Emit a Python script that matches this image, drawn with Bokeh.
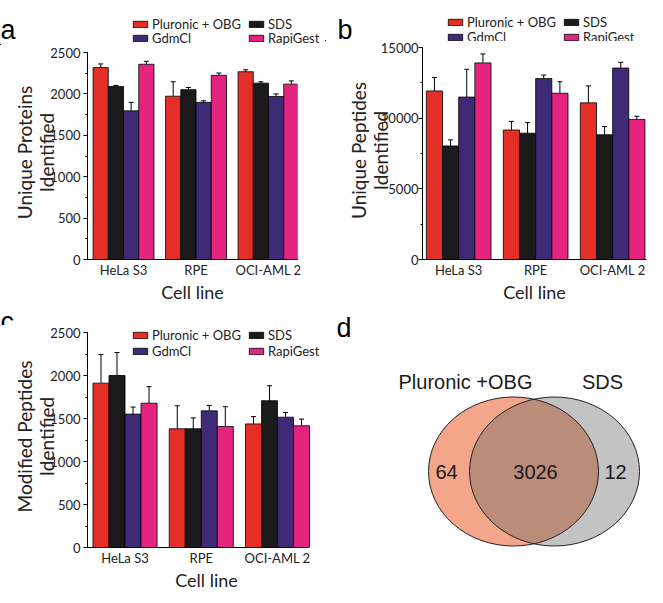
import numpy as np
from bokeh.plotting import figure
from bokeh.models import (Range1d, FixedTicker, SingleIntervalTicker, Legend, LegendItem,
                          Whisker, TeeHead, ColumnDataSource)
from bokeh.layouts import column, row
from bokeh.embed import file_html
from bokeh.resources import INLINE
from bokeh.core.properties import value

# ---------------- data ----------------
cell_lines = ["HeLa S3", "RPE", "OCI-AML 2"]
series = ["Pluronic + OBG", "SDS", "GdmCl", "RapiGest"]
colors = ["#E42F27", "#1B191A", "#3F2A78", "#E5247F"]

# panel a: unique proteins identified
a_pluronic = [2319, 1972, 2268]
a_pluronic_err = [43, 174, 23]
a_sds = [2090, 2051, 2130]
a_sds_err = [12, 27, 16]
a_gdmcl = [1795, 1898, 1969]
a_gdmcl_err = [103, 19, 31]
a_rapigest = [2358, 2224, 2118]
a_rapigest_err = [36, 28, 39]

# panel b: unique peptides identified
b_pluronic = [11926, 9164, 11085]
b_pluronic_err = [950, 610, 1198]
b_sds = [8034, 8938, 8825]
b_sds_err = [429, 746, 587]
b_gdmcl = [11492, 12802, 13548]
b_gdmcl_err = [1966, 249, 407]
b_rapigest = [13910, 11763, 9910]
b_rapigest_err = [633, 813, 226]

# panel c: modified peptides identified
c_pluronic = [1911, 1381, 1437]
c_pluronic_err = [333, 267, 85]
c_sds = [2000, 1381, 1707]
c_sds_err = [267, 126, 174]
c_gdmcl = [1551, 1589, 1515]
c_gdmcl_err = [82, 63, 55]
c_rapigest = [1678, 1407, 1415]
c_rapigest_err = [192, 230, 78]

# panel d: venn
venn_sets = ["Pluronic +OBG", "SDS"]
venn_counts = [64, 3026, 12]  # only Pluronic, both, only SDS

FONT = "Lato"
BW = 0.21
LEG_ROWS = [[0, 1], [2, 3]]  # row 1: Pluronic + OBG, SDS ; row 2: GdmCl, RapiGest


def add_legends(p, rends, x, ys):
    for idx, y in zip(LEG_ROWS, ys):
        p.add_layout(Legend(items=[LegendItem(label=series[i], renderers=[rends[i]]) for i in idx],
                            location=(x, y), orientation="horizontal",
                            glyph_width=18, glyph_height=8, label_standoff=3, spacing=0,
                            padding=0, margin=0, label_height=24, label_width=95,
                            label_text_font=FONT, label_text_font_size="13px", label_text_color="#222222",
                            border_line_color=None, background_fill_alpha=0))


def blank(w, h):
    p = figure(width=w, height=h, x_range=Range1d(0, w), y_range=Range1d(0, h),
               x_axis_type=None, y_axis_type=None, toolbar_location=None, output_backend="svg",
               min_border=0)
    p.grid.visible = False
    p.outline_line_color = None
    p.background_fill_color = None
    p.border_fill_color = None
    return p


def header(w, h, letter, lx, ly, legend_x=None, legend_ys=None):
    p = blank(w, h)
    p.text(x=[lx], y=[ly], text=[letter], text_baseline="alphabetic",
           text_font=value("Liberation Sans"), text_font_size="27px", text_color="#000000")
    if legend_x is not None:
        # legend proxies, placed outside the visible range
        rends = [p.vbar(x=[-1000], top=[1], width=1, fill_color=c, line_color="black", line_width=0.8)
                 for c in colors]
        add_legends(p, rends, legend_x, legend_ys)
    return p


def bar_panel(means, errs, ylabel, yshown, yint, fw, fh, top_gap, left, right, xr, xshown,
              ylab_standoff=-11, ytick_standoff=3, legend_x=None, legend_ys=None):
    # frame starts at the figure top; the y range reaches top_gap pixels above the axis end
    yend = yshown * fh / (fh - top_gap)
    p = figure(frame_width=fw, frame_height=fh, x_range=Range1d(*xr), y_range=Range1d(0, yend),
               toolbar_location=None, output_backend="svg",
               min_border_left=left, min_border_right=right, min_border_top=0, min_border_bottom=47)
    p.grid.visible = False
    p.outline_line_color = None
    p.background_fill_color = None
    p.border_fill_color = None
    base = np.arange(1, len(cell_lines) + 1)
    rends = []
    for i in range(4):
        xs = base + (i - 1.5) * BW
        r = p.vbar(x=xs, top=means[i], width=BW, fill_color=colors[i], line_color="black", line_width=0.8)
        rends.append(r)
        src = ColumnDataSource(dict(base=xs, lower=np.array(means[i]), upper=np.array(means[i]) + np.array(errs[i])))
        w = Whisker(base="base", lower="lower", upper="upper", source=src, dimension="height",
                    line_color="black", line_width=1,
                    upper_head=TeeHead(size=5, line_color="black", line_width=1), lower_head=None)
        p.add_layout(w)
    p.xaxis.ticker = FixedTicker(ticks=list(base))
    p.xaxis.bounds = xshown
    p.xaxis.major_label_overrides = {int(b): c for b, c in zip(base, cell_lines)}
    p.xaxis.major_tick_line_color = None
    p.xaxis.minor_tick_line_color = None
    p.xaxis.major_tick_out = 0
    p.xaxis.major_tick_in = 0
    p.xaxis.minor_tick_out = 0
    p.xaxis.minor_tick_in = 0
    p.xaxis.major_label_standoff = 2
    p.xaxis.axis_label = "Cell line"
    p.xaxis.axis_label_standoff = 0
    p.yaxis.ticker = SingleIntervalTicker(interval=yint, num_minor_ticks=2)
    p.yaxis.bounds = (0, yshown)
    p.yaxis.major_tick_out = 4
    p.yaxis.major_tick_in = 0
    p.yaxis.minor_tick_out = 2
    p.yaxis.minor_tick_in = 0
    p.yaxis.major_label_standoff = ytick_standoff
    p.yaxis.axis_label = ylabel
    p.yaxis.axis_label_standoff = ylab_standoff
    p.yaxis.axis_label_text_line_height = 0.95
    for ax in (p.xaxis, p.yaxis):
        ax.axis_line_color = "black"
        ax.axis_line_width = 1
        ax.major_label_text_font = FONT
        ax.major_label_text_font_size = "13px"
        ax.major_label_text_color = "#222222"
        ax.axis_label_text_font = FONT
        ax.axis_label_text_font_style = "normal"
        ax.axis_label_text_color = "#222222"
    p.xaxis.axis_label_text_font_size = "18px"
    p.yaxis.axis_label_text_font_size = "19px"
    if legend_x is not None:
        add_legends(p, rends, legend_x, legend_ys)
    return p


# panel a: header 45 px, plot 261 px
ha = header(325, 45, "a", 0, 16, legend_x=131, legend_ys=(9.5, -5))
pa = bar_panel([a_pluronic, a_sds, a_gdmcl, a_rapigest],
               [a_pluronic_err, a_sds_err, a_gdmcl_err, a_rapigest_err],
               "Unique Proteins\nIdentified", 2500, 500, 210, 214, 7, 87, 28,
               (0.503, 3.40), (0.503, 3.40))
# panel b: header 41 px, plot 265 px
hb = header(322, 41, "b", 12, 12, legend_x=121, legend_ys=(7, -7.5))
pb = bar_panel([b_pluronic, b_sds, b_gdmcl, b_rapigest],
               [b_pluronic_err, b_sds_err, b_gdmcl_err, b_rapigest_err],
               "Unique Peptides\nIdentified", 15000, 5000, 224, 218, 6, 97, 1,
               (0.53, 3.44), (0.53, 3.44), ylab_standoff=-14, ytick_standoff=0)
# panel c: header 19 px, plot 269 px (legend inside the frame)
hc = header(325, 19, "c", 0, 4)
pc = bar_panel([c_pluronic, c_sds, c_gdmcl, c_rapigest],
               [c_pluronic_err, c_sds_err, c_gdmcl_err, c_rapigest_err],
               "Modified Peptides\nIdentified", 2500, 500, 238, 222, 7, 87, 0,
               (0.508, 0.508 + 2.898 * 238 / 221), (0.508, 3.406),
               legend_x=44, legend_ys=(200.5, 184.5))

# ---------------- venn ----------------
pd_ = blank(322, 288)
cx = [188, 229]
cy = [123, 123]
pd_.ellipse(x=[cx[0]], y=[cy[0]], width=170, height=149, fill_color="#F4A68A", line_color=None)
pd_.ellipse(x=[cx[1]], y=[cy[1]], width=170, height=149, fill_color="#656565", fill_alpha=0.39, line_color=None)
pd_.ellipse(x=cx, y=cy, width=170, height=149, fill_color=None, line_color="#222222", line_width=1)
pd_.text(x=[140, 277], y=[213, 213], text=venn_sets, text_align="center", text_baseline="middle",
         text_font=value("Liberation Sans"), text_font_size="20px", text_color="#1a1a1a")
pd_.text(x=[121, 210, 290], y=[123, 123, 123], text=[str(c) for c in venn_counts],
         text_align="center", text_baseline="middle",
         text_font=value("Liberation Sans"), text_font_size="20px", text_color="#1a1a1a")
pd_.text(x=[11], y=[267], text=["d"], text_baseline="alphabetic",
         text_font=value("Liberation Sans"), text_font_size="27px", text_color="#000000")


def box(*figs):
    return column(*[column(f) for f in figs])


layout = column(row(box(ha, pa), box(hb, pb)), row(box(hc, pc), box(pd_)))
open("out.html", "w").write(file_html(layout, INLINE))
